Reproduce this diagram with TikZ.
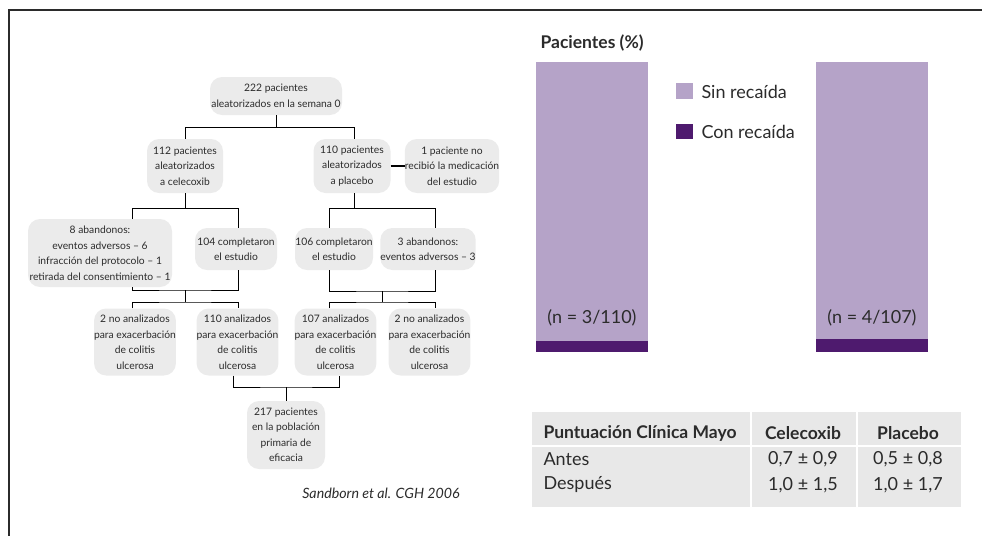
\documentclass[tikz,border=0pt]{standalone}
\usepackage{fontspec}
\setmainfont{Lato}
\usetikzlibrary{calc}

\definecolor{boxgrey}{HTML}{EBEBEB}
\definecolor{sinrec}{HTML}{B5A3C8}
\definecolor{conrec}{HTML}{4E1A6E}
\definecolor{tabgrey}{HTML}{E8E8E8}
\definecolor{txt}{HTML}{2B2B2B}

\begin{document}
\begin{tikzpicture}[x=1pt, y=-1pt,
    box/.style={fill=boxgrey, rounded corners=12pt, align=center, inner sep=0pt,
      text=txt, font=\fontsize{10.3}{15.5}\selectfont},
    link/.style={line width=0.9pt},
    big/.style={text=txt, font=\fontsize{18}{20}\selectfont},
    bigb/.style={text=txt, font=\fontsize{17.5}{20}\bfseries}]

    \useasboundingbox (0,0) rectangle (982,536);

    % frame, only top and left edges are visible
    \draw[line width=1.5pt, txt] (982,10) -- (9,10) -- (9,536);

    % Flow chart of the patients
    \begin{scope}
        \node[box, minimum width=132pt, minimum height=38pt] (top) at (276,96)
            {222 pacientes\\aleatorizados en la semana 0};

        \node[box, minimum width=76pt, minimum height=54pt] (cel) at (185,166)
            {112 pacientes\\aleatorizados\\a celecoxib};
        \node[box, minimum width=77pt, minimum height=54pt] (pla) at (352,166)
            {110 pacientes\\aleatorizados\\a placebo};
        \node[box, minimum width=92pt, minimum height=54pt] (nomed) at (452,166)
            {1 paciente no\\recibió la medicación\\del estudio};

        \node[box, minimum width=144pt, minimum height=68pt] (ab8) at (100,253)
            {8 abandonos:\\eventos adversos -- 6\\infracción del protocolo -- 1\\retirada del consentimiento -- 1};
        \node[box, minimum width=82pt, minimum height=42pt] (co104) at (236,249)
            {104 completaron\\el estudio};
        \node[box, minimum width=78pt, minimum height=42pt] (co106) at (334,249)
            {106 completaron\\el estudio};
        \node[box, minimum width=91pt, minimum height=42pt] (ab3) at (428,249)
            {3 abandonos:\\eventos adversos -- 3};

        \node[box, minimum width=76pt, minimum height=67pt] (na1) at (135,342)
            {2 no analizados\\para exacerbación\\de colitis\\ulcerosa};
        \node[box, minimum width=79pt, minimum height=67pt] (an110) at (237.5,342)
            {110 analizados\\para exacerbación\\de colitis\\ulcerosa};
        \node[box, minimum width=79pt, minimum height=67pt] (an107) at (335.5,342)
            {107 analizados\\para exacerbación\\de colitis\\ulcerosa};
        \node[box, minimum width=79pt, minimum height=67pt] (na2) at (429.5,342)
            {2 no analizados\\para exacerbación\\de colitis\\ulcerosa};

        \node[box, minimum width=78pt, minimum height=68pt] (pop) at (286,435)
            {217 pacientes\\en la población\\primaria de\\eficacia};

        \node[text=txt, font=\fontsize{14.2}{16}\itshape] (ref) at (381,493)
            {Sandborn et al. CGH 2006};
    \end{scope}

    % Connectors, the junctions are named coordinates
    \begin{scope}[link]
        \draw (top.south) -- ++(0,12) coordinate (j1);
        \draw (cel.north) |- (j1) -| ([xshift=2pt]pla.north);

        \draw (cel.south) -- ++(0,15) coordinate (j2);
        \draw ([xshift=32pt]ab8.north) |- (j2) -| ([xshift=2pt]co104.north);
        \draw ([xshift=2pt]pla.south) -- ++(0,15) coordinate (j3);
        \draw ([xshift=-5pt]co106.north) |- (j3) -| ([xshift=7pt]ab3.north);

        \coordinate (j4) at (185,290);
        \draw ([xshift=32pt]ab8.south) |- (j4) -| ([xshift=2pt]co104.south);
        \draw (j4) -- ++(0,12) coordinate (j5);
        \draw ([xshift=-3pt]na1.north) |- (j5) -| ([xshift=0.5pt]an110.north);

        \coordinate (j6) at (382,291);
        \draw ([xshift=-5pt]co106.south) |- (j6) -| ([xshift=7pt]ab3.south);
        \draw (j6) -- ++(0,11) coordinate (j7);
        \draw ([xshift=-6.5pt]an107.north) |- (j7) -| ([xshift=5.5pt]na2.north);

        \coordinate (j8) at (286,387);
        \draw ([xshift=-4.5pt]an110.south) |- (j8) -| ([xshift=3.5pt]an107.south);
        \draw (j8) -- (pop.north);
    \end{scope}

    \draw[line width=2.2pt] (pla.east) -- (nomed.west);

    % Bar chart of the relapses
    \node[bigb, anchor=west] (ytitle) at (537,43) {Pacientes (\%)};

    \fill[sinrec] (536,62) rectangle (648,341);
    \fill[conrec] (536,341) rectangle (648,352);
    \fill[sinrec] (816,62) rectangle (928,339);
    \fill[conrec] (816,339) rectangle (928,352);

    \node[big] (n1) at (592,318) {(n = 3/110)};
    \node[big] (n2) at (872,318) {(n = 4/107)};

    % legend
    \fill[sinrec] (676,83) rectangle (693,99);
    \node[big, anchor=west] (lsin) at (698,92) {Sin recaída};
    \fill[conrec] (676,124) rectangle (693,139);
    \node[big, anchor=west] (lcon) at (698,132) {Con recaída};

    % Table of the Mayo score
    \fill[tabgrey] (532,412) rectangle (961,507);
    \begin{scope}[white, line width=1.5pt]
        \draw (532,446) -- (961,446);
        \draw (751,412) -- (751,507);
        \draw (857,412) -- (857,507);
    \end{scope}

    \begin{scope}[every node/.style={big}]
        \node[bigb, anchor=west] (h1) at (540,433) {Puntuación Clínica Mayo};
        \node[bigb] (h2) at (803,433) {Celecoxib};
        \node[bigb] (h3) at (908,433) {Placebo};

        \node[anchor=west] (r1) at (540,459) {Antes};
        \node (r1a) at (803,459) {0,7 ± 0,9};
        \node (r1b) at (908,459) {0,5 ± 0,8};

        \node[anchor=west] (r2) at (540,485) {Después};
        \node (r2a) at (803,485) {1,0 ± 1,5};
        \node (r2b) at (908,485) {1,0 ± 1,7};
    \end{scope}

\end{tikzpicture}
\end{document}
